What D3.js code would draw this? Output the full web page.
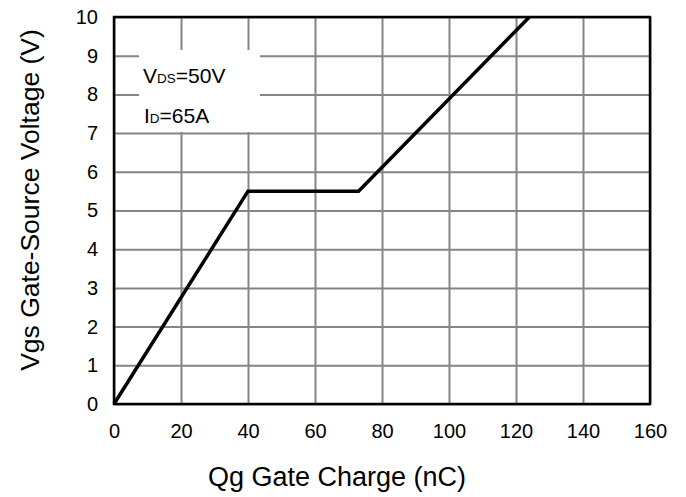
<!DOCTYPE html>
<html>
<head>
<meta charset="utf-8">
<script src="https://cdn.jsdelivr.net/npm/d3@7"></script>
<style>
  body { margin: 0; background: #fff; }
  text { font-family: "Liberation Sans", Arial, sans-serif; fill: #000; }
</style>
</head>
<body>
<script>
var width = 686,
    height = 497;

// gate charge curve (nC, V)
var qg  = [0, 40, 73, 124];
var vgs = [0, 5.5, 5.5, 10];
var xTicks = [0, 20, 40, 60, 80, 100, 120, 140, 160];
var yTicks = [0, 1, 2, 3, 4, 5, 6, 7, 8, 9, 10];

var pLeft = 114, pRight = 650, pTop = 17, pBottom = 404;

var x = d3.scaleLinear().domain([0, 160]).range([pLeft, pRight]);
var y = d3.scaleLinear().domain([0, 10]).range([pBottom, pTop]);

var svg = d3.select('body')
            .append('svg')
            .attr('width', width)
            .attr('height', height);

// grid
var gx = svg.append('g')
    .attr('transform', 'translate(0,' + pBottom + ')')
    .call(d3.axisBottom(x).tickValues(xTicks).tickSize(-(pBottom - pTop)).tickFormat(''));
var gy = svg.append('g')
    .attr('transform', 'translate(' + pLeft + ',0)')
    .call(d3.axisLeft(y).tickValues(yTicks).tickSize(-(pRight - pLeft)).tickFormat(''));
[gx, gy].forEach(function(g) {
  g.select('.domain').remove();
  g.selectAll('line').attr('stroke', '#858585').attr('stroke-width', 2);
});

// legend box hiding grid
svg.append('rect')
    .attr('x', 139).attr('y', 50)
    .attr('width', 121).attr('height', 82)
    .attr('fill', '#fff');

// frame
svg.append('rect')
    .attr('x', pLeft).attr('y', pTop)
    .attr('width', pRight - pLeft).attr('height', pBottom - pTop)
    .attr('fill', 'none')
    .attr('stroke', '#000')
    .attr('stroke-width', 2.5);

// curve
var line = d3.line()
    .x(function(d, i) { return x(qg[i]); })
    .y(function(d, i) { return y(vgs[i]); });
svg.append('path')
    .datum(qg)
    .attr('d', line)
    .attr('fill', 'none')
    .attr('stroke', '#000')
    .attr('stroke-width', 3.5)
    .attr('stroke-linejoin', 'miter');

// tick labels
var ax = svg.append('g')
    .attr('transform', 'translate(0,' + pBottom + ')')
    .call(d3.axisBottom(x).tickValues(xTicks).tickSize(0).tickPadding(20));
var ay = svg.append('g')
    .attr('transform', 'translate(' + pLeft + ',0)')
    .call(d3.axisLeft(y).tickValues(yTicks).tickSize(0).tickPadding(16));
[ax, ay].forEach(function(g) {
  g.select('.domain').remove();
  g.selectAll('text')
    .style('font-family', '"Liberation Sans", Arial, sans-serif')
    .style('font-size', '20px')
    .attr('fill', '#000');
});

// legend text
var t1 = svg.append('text').attr('x', 143).attr('y', 83).style('font-size', '21px');
t1.append('tspan').text('V');
t1.append('tspan').style('font-size', '13.5px').text('DS');
t1.append('tspan').text('=50V');
var t2 = svg.append('text').attr('x', 144).attr('y', 123).style('font-size', '21px');
t2.append('tspan').text('I');
t2.append('tspan').style('font-size', '13.5px').text('D');
t2.append('tspan').text('=65A');

// axis titles
svg.append('text')
    .attr('x', 337)
    .attr('y', 486)
    .attr('text-anchor', 'middle')
    .style('font-size', '27px')
    .text('Qg Gate Charge (nC)');

svg.append('text')
    .attr('transform', 'translate(39,200) rotate(-90)')
    .attr('text-anchor', 'middle')
    .style('font-size', '26.5px')
    .text('Vgs Gate-Source Voltage (V)');
</script>
</body>
</html>
